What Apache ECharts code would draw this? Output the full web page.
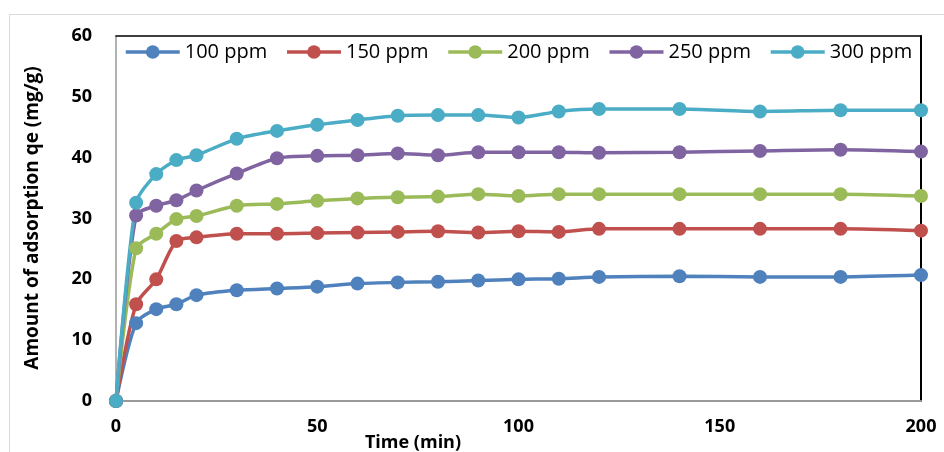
<!DOCTYPE html>
<html>
<head>
<meta charset="utf-8">
<script src="https://cdn.jsdelivr.net/npm/echarts@6/dist/echarts.min.js"></script>
<style>
html,body{margin:0;padding:0;background:#fff;}
#chart{width:944px;height:452px;}
</style>
</head>
<body>
<div id="chart"></div>
<script>
var times = [0,5,10,15,20,30,40,50,60,70,80,90,100,110,120,140,160,180,200];
var seriesNames = ['100 ppm','150 ppm','200 ppm','250 ppm','300 ppm'];
var q100 = [0,12.8,15.1,15.9,17.4,18.2,18.5,18.8,19.3,19.5,19.6,19.8,20.0,20.1,20.4,20.5,20.4,20.4,20.7];
var q150 = [0,15.9,20.0,26.3,26.9,27.5,27.5,27.6,27.7,27.8,27.9,27.7,27.9,27.8,28.3,28.3,28.3,28.3,28.0];
var q200 = [0,25.1,27.5,29.9,30.4,32.1,32.4,32.9,33.3,33.5,33.6,34.0,33.7,34.0,34.0,34.0,34.0,34.0,33.7];
var q250 = [0,30.5,32.1,33.0,34.6,37.4,39.9,40.3,40.4,40.7,40.4,40.9,40.9,40.9,40.8,40.9,41.1,41.3,41.0];
var q300 = [0,32.6,37.3,39.6,40.4,43.1,44.4,45.4,46.2,46.9,47.0,47.0,46.6,47.6,48.0,48.0,47.6,47.8,47.8];
var xTitle = 'Time (min)';
var yTitle = 'Amount of adsorption qe (mg/g)';

var colors = ['#4F81BD','#C0504D','#9BBB59','#8064A2','#4BACC6'];
var allData = [q100,q150,q200,q250,q300];
var FONT = '"Open Sans", "Liberation Sans", sans-serif';

function pairs(arr){ return times.map(function(t,i){ return [t, arr[i]]; }); }

var series = allData.map(function(d,i){
  return {
    name: seriesNames[i],
    type: 'line',
    xAxisIndex: 0, yAxisIndex: 0,
    data: pairs(d),
    smooth: 0.25,
    symbol: 'circle',
    symbolSize: 14,
    showSymbol: true,
    lineStyle: {color: colors[i], width: 3.5},
    itemStyle: {color: colors[i]},
    emphasis: {disabled: true},
    animation: false
  };
});

var chart = echarts.init(document.getElementById('chart'), null, {renderer:'canvas'});
chart.setOption({
  backgroundColor: '#ffffff',
  animation: false,
  color: colors,
  grid: {left: 116, right: 23, top: 36, bottom: 51, containLabel: false},
  legend: {
    data: seriesNames,
    left: 124, top: 42, padding: 0,
    itemWidth: 54, itemHeight: 17, itemGap: 18,
    lineStyle: {width: 3.5},
    textStyle: {fontFamily: FONT, fontSize: 20, color: '#000'},
    selectedMode: false
  },
  xAxis: [{
    type: 'value', min: 0, max: 200, interval: 50,
    axisLine: {show: true, lineStyle: {color: '#999999', width: 2}},
    axisTick: {show: false},
    splitLine: {show: false},
    axisLabel: {fontFamily: FONT, fontSize: 18, fontWeight: 'bold', color: '#000', margin: 17}
  },{
    type: 'value', min: 0, max: 200, position: 'top',
    axisLine: {show: true, onZero: false, lineStyle: {color: '#000', width: 1.5}},
    axisTick: {show: false}, axisLabel: {show: false}, splitLine: {show: false}
  }],
  yAxis: [{
    type: 'value', min: 0, max: 60, interval: 10,
    axisLine: {show: true, lineStyle: {color: '#999999', width: 1.5}},
    axisTick: {show: false},
    splitLine: {show: false},
    axisLabel: {fontFamily: FONT, fontSize: 18, fontWeight: 'bold', color: '#000', margin: 24}
  },{
    type: 'value', min: 0, max: 60, position: 'right',
    axisLine: {show: true, onZero: false, lineStyle: {color: '#000', width: 2}},
    axisTick: {show: false}, axisLabel: {show: false}, splitLine: {show: false}
  }],
  graphic: [
    {type: 'rect', shape: {x: 9.5, y: 14.5, width: 1000, height: 500}, style: {fill: 'none', stroke: '#d9d9d9', lineWidth: 1}, z: -10, silent: true},
    {type: 'text', x: 413, y: 443, style: {text: xTitle, fontFamily: FONT, fontSize: 18, fontWeight: 'bold', fill: '#000', align: 'center', verticalAlign: 'middle', textAlign: 'center', textVerticalAlign: 'middle'}},
    {type: 'text', x: 33, y: 218, rotation: Math.PI/2, style: {text: yTitle, fontFamily: FONT, fontSize: 19, fontWeight: 'bold', fill: '#000', align: 'center', verticalAlign: 'middle', textAlign: 'center', textVerticalAlign: 'middle'}}
  ],
  series: series
});
</script>
</body>
</html>
